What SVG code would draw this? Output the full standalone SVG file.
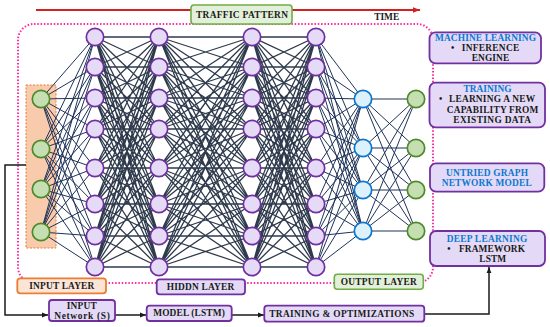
<svg xmlns="http://www.w3.org/2000/svg" width="550" height="327" viewBox="0 0 550 327">
<style>
.t{font-family:"Liberation Serif","DejaVu Serif",serif;font-weight:bold;font-size:9.4px;fill:#1a1a1a;text-anchor:middle}
.s{text-anchor:start}
.bl{fill:#0B78CF}
.hn{fill:#E5DBF7;stroke:#7030A0;stroke-width:1.7}
.gn{fill:#C5DFB3;stroke:#4E8A2C;stroke-width:1.7}
.bn{fill:#DDF1FC;stroke:#0A76CE;stroke-width:1.7}
.pb{fill:#E4DAF7;stroke:#7030A0;stroke-width:1.8}
.gb{fill:#E2F0D9;stroke:#70AD47;stroke-width:1.6}
.ob{fill:#FCE4D6;stroke:#ED7D31;stroke-width:1.8}
.hl{fill:none;stroke:#2F3B4D;stroke-width:1.3}
.il{fill:none;stroke:#1F3358;stroke-width:1}
.bk{fill:none;stroke:#1a1a1a;stroke-width:1.5}
</style>
<defs>
<marker id="ah" viewBox="0 0 10 10" refX="10" refY="5" markerWidth="6" markerHeight="6" markerUnits="userSpaceOnUse" orient="auto"><path d="M0 1L10 5L0 9z" fill="#1a1a1a"/></marker>
<marker id="ar" viewBox="0 0 10 10" refX="10" refY="5" markerWidth="7" markerHeight="7" markerUnits="userSpaceOnUse" orient="auto"><path d="M0 1L10 5L0 9z" fill="#D42020"/></marker>
</defs>

<g id="frame">
<rect x="18" y="24" width="415" height="259" rx="16" fill="none" stroke="#FF2E9E" stroke-width="2" stroke-dasharray="1.5 1.8"/>
<line x1="36" y1="10" x2="420" y2="10" stroke="#D42020" stroke-width="1.8" marker-end="url(#ar)"/>
<rect x="26" y="85" width="30" height="163" fill="#F8CBAD" stroke="#ED7D31" stroke-width="1" stroke-dasharray="2 1.5"/>
</g>

<g id="connectors">
<path class="il" d="M41 99L95 37M41 99L95 67M41 99L95 98M41 99L95 129M41 99L95 168M41 99L95 204M41 99L95 236M41 99L95 267M41 149L95 37M41 149L95 67M41 149L95 98M41 149L95 129M41 149L95 168M41 149L95 204M41 149L95 236M41 149L95 267M41 189L95 37M41 189L95 67M41 189L95 98M41 189L95 129M41 189L95 168M41 189L95 204M41 189L95 236M41 189L95 267M41 232L95 37M41 232L95 67M41 232L95 98M41 232L95 129M41 232L95 168M41 232L95 204M41 232L95 236M41 232L95 267"/>
<path class="hl" d="M95 37L159 37M95 37L159 67M95 37L159 98M95 37L159 129M95 37L159 168M95 37L159 204M95 37L159 236M95 37L159 267M95 67L159 37M95 67L159 67M95 67L159 98M95 67L159 129M95 67L159 168M95 67L159 204M95 67L159 236M95 67L159 267M95 98L159 37M95 98L159 67M95 98L159 98M95 98L159 129M95 98L159 168M95 98L159 204M95 98L159 236M95 98L159 267M95 129L159 37M95 129L159 67M95 129L159 98M95 129L159 129M95 129L159 168M95 129L159 204M95 129L159 236M95 129L159 267M95 168L159 37M95 168L159 67M95 168L159 98M95 168L159 129M95 168L159 168M95 168L159 204M95 168L159 236M95 168L159 267M95 204L159 37M95 204L159 67M95 204L159 98M95 204L159 129M95 204L159 168M95 204L159 204M95 204L159 236M95 204L159 267M95 236L159 37M95 236L159 67M95 236L159 98M95 236L159 129M95 236L159 168M95 236L159 204M95 236L159 236M95 236L159 267M95 267L159 37M95 267L159 67M95 267L159 98M95 267L159 129M95 267L159 168M95 267L159 204M95 267L159 236M95 267L159 267"/>
<path class="hl" d="M159 37L252 37M159 37L252 67M159 37L252 98M159 37L252 129M159 37L252 168M159 37L252 204M159 37L252 236M159 37L252 267M159 67L252 37M159 67L252 67M159 67L252 98M159 67L252 129M159 67L252 168M159 67L252 204M159 67L252 236M159 67L252 267M159 98L252 37M159 98L252 67M159 98L252 98M159 98L252 129M159 98L252 168M159 98L252 204M159 98L252 236M159 98L252 267M159 129L252 37M159 129L252 67M159 129L252 98M159 129L252 129M159 129L252 168M159 129L252 204M159 129L252 236M159 129L252 267M159 168L252 37M159 168L252 67M159 168L252 98M159 168L252 129M159 168L252 168M159 168L252 204M159 168L252 236M159 168L252 267M159 204L252 37M159 204L252 67M159 204L252 98M159 204L252 129M159 204L252 168M159 204L252 204M159 204L252 236M159 204L252 267M159 236L252 37M159 236L252 67M159 236L252 98M159 236L252 129M159 236L252 168M159 236L252 204M159 236L252 236M159 236L252 267M159 267L252 37M159 267L252 67M159 267L252 98M159 267L252 129M159 267L252 168M159 267L252 204M159 267L252 236M159 267L252 267"/>
<path class="hl" d="M252 37L316 37M252 37L316 67M252 37L316 98M252 37L316 129M252 37L316 168M252 37L316 204M252 37L316 236M252 37L316 267M252 67L316 37M252 67L316 67M252 67L316 98M252 67L316 129M252 67L316 168M252 67L316 204M252 67L316 236M252 67L316 267M252 98L316 37M252 98L316 67M252 98L316 98M252 98L316 129M252 98L316 168M252 98L316 204M252 98L316 236M252 98L316 267M252 129L316 37M252 129L316 67M252 129L316 98M252 129L316 129M252 129L316 168M252 129L316 204M252 129L316 236M252 129L316 267M252 168L316 37M252 168L316 67M252 168L316 98M252 168L316 129M252 168L316 168M252 168L316 204M252 168L316 236M252 168L316 267M252 204L316 37M252 204L316 67M252 204L316 98M252 204L316 129M252 204L316 168M252 204L316 204M252 204L316 236M252 204L316 267M252 236L316 37M252 236L316 67M252 236L316 98M252 236L316 129M252 236L316 168M252 236L316 204M252 236L316 236M252 236L316 267M252 267L316 37M252 267L316 67M252 267L316 98M252 267L316 129M252 267L316 168M252 267L316 204M252 267L316 236M252 267L316 267"/>
<path class="il" d="M316 37L363 99M316 37L363 148M316 37L363 190M316 37L363 231M316 67L363 99M316 67L363 148M316 67L363 190M316 67L363 231M316 98L363 99M316 98L363 148M316 98L363 190M316 98L363 231M316 129L363 99M316 129L363 148M316 129L363 190M316 129L363 231M316 168L363 99M316 168L363 148M316 168L363 190M316 168L363 231M316 204L363 99M316 204L363 148M316 204L363 190M316 204L363 231M316 236L363 99M316 236L363 148M316 236L363 190M316 236L363 231M316 267L363 99M316 267L363 148M316 267L363 190M316 267L363 231"/>
<path class="il" d="M363 99L416 99M363 99L416 148M363 99L416 190M363 99L416 231M363 148L416 99M363 148L416 148M363 148L416 190M363 148L416 231M363 190L416 99M363 190L416 148M363 190L416 190M363 190L416 231M363 231L416 99M363 231L416 148M363 231L416 190M363 231L416 231"/>
<path class="bk" d="M26 165H5V315H48" marker-end="url(#ah)"/>
<path class="bk" d="M115 315H146" marker-end="url(#ah)"/>
<path class="bk" d="M232 315H264" marker-end="url(#ah)"/>
<path class="bk" d="M424 314H489V267" marker-end="url(#ah)"/>
</g>

<g id="input-layer-nodes">
<g id="i1"><circle class="gn" cx="41" cy="99" r="8.7"/></g>
<g id="i2"><circle class="gn" cx="41" cy="149" r="8.7"/></g>
<g id="i3"><circle class="gn" cx="41" cy="189" r="8.7"/></g>
<g id="i4"><circle class="gn" cx="41" cy="232" r="8.7"/></g>
</g>
<g id="hidden-1">
<g id="h1-1"><circle class="hn" cx="95" cy="37" r="8.7"/></g>
<g id="h1-2"><circle class="hn" cx="95" cy="67" r="8.7"/></g>
<g id="h1-3"><circle class="hn" cx="95" cy="98" r="8.7"/></g>
<g id="h1-4"><circle class="hn" cx="95" cy="129" r="8.7"/></g>
<g id="h1-5"><circle class="hn" cx="95" cy="168" r="8.7"/></g>
<g id="h1-6"><circle class="hn" cx="95" cy="204" r="8.7"/></g>
<g id="h1-7"><circle class="hn" cx="95" cy="236" r="8.7"/></g>
<g id="h1-8"><circle class="hn" cx="95" cy="267" r="8.7"/></g>
</g>
<g id="hidden-2">
<g id="h2-1"><circle class="hn" cx="159" cy="37" r="8.7"/></g>
<g id="h2-2"><circle class="hn" cx="159" cy="67" r="8.7"/></g>
<g id="h2-3"><circle class="hn" cx="159" cy="98" r="8.7"/></g>
<g id="h2-4"><circle class="hn" cx="159" cy="129" r="8.7"/></g>
<g id="h2-5"><circle class="hn" cx="159" cy="168" r="8.7"/></g>
<g id="h2-6"><circle class="hn" cx="159" cy="204" r="8.7"/></g>
<g id="h2-7"><circle class="hn" cx="159" cy="236" r="8.7"/></g>
<g id="h2-8"><circle class="hn" cx="159" cy="267" r="8.7"/></g>
</g>
<g id="hidden-3">
<g id="h3-1"><circle class="hn" cx="252" cy="37" r="8.7"/></g>
<g id="h3-2"><circle class="hn" cx="252" cy="67" r="8.7"/></g>
<g id="h3-3"><circle class="hn" cx="252" cy="98" r="8.7"/></g>
<g id="h3-4"><circle class="hn" cx="252" cy="129" r="8.7"/></g>
<g id="h3-5"><circle class="hn" cx="252" cy="168" r="8.7"/></g>
<g id="h3-6"><circle class="hn" cx="252" cy="204" r="8.7"/></g>
<g id="h3-7"><circle class="hn" cx="252" cy="236" r="8.7"/></g>
<g id="h3-8"><circle class="hn" cx="252" cy="267" r="8.7"/></g>
</g>
<g id="hidden-4">
<g id="h4-1"><circle class="hn" cx="316" cy="37" r="8.7"/></g>
<g id="h4-2"><circle class="hn" cx="316" cy="67" r="8.7"/></g>
<g id="h4-3"><circle class="hn" cx="316" cy="98" r="8.7"/></g>
<g id="h4-4"><circle class="hn" cx="316" cy="129" r="8.7"/></g>
<g id="h4-5"><circle class="hn" cx="316" cy="168" r="8.7"/></g>
<g id="h4-6"><circle class="hn" cx="316" cy="204" r="8.7"/></g>
<g id="h4-7"><circle class="hn" cx="316" cy="236" r="8.7"/></g>
<g id="h4-8"><circle class="hn" cx="316" cy="267" r="8.7"/></g>
</g>
<g id="blue-layer">
<g id="b1"><circle class="bn" cx="363" cy="99" r="8.7"/></g>
<g id="b2"><circle class="bn" cx="363" cy="148" r="8.7"/></g>
<g id="b3"><circle class="bn" cx="363" cy="190" r="8.7"/></g>
<g id="b4"><circle class="bn" cx="363" cy="231" r="8.7"/></g>
</g>
<g id="output-nodes">
<g id="o1"><circle class="gn" cx="416" cy="99" r="8.7"/></g>
<g id="o2"><circle class="gn" cx="416" cy="148" r="8.7"/></g>
<g id="o3"><circle class="gn" cx="416" cy="190" r="8.7"/></g>
<g id="o4"><circle class="gn" cx="416" cy="231" r="8.7"/></g>
</g>

<g id="traffic-pattern">
<rect class="gb" x="191" y="5" width="101" height="19" rx="3"/>
<text class="t" x="242" y="17.8" textLength="92">TRAFFIC PATTERN</text>
</g>
<g id="time"><text class="t" x="386.7" y="19.8" textLength="25">TIME</text></g>

<g id="machine-learning">
<rect class="pb" x="429.5" y="32.3" width="111.5" height="31" rx="6"/>
<text class="t bl" x="485.5" y="40.8" textLength="101">MACHINE LEARNING</text>
<text class="t" x="452.7" y="50.8">•</text>
<text class="t s" x="461.7" y="50.8" textLength="57.5">INFERENCE</text>
<text class="t" x="490.5" y="61.3" textLength="37.5">ENGINE</text>
</g>
<g id="training">
<rect class="pb" x="429.5" y="82.7" width="115.5" height="44.6" rx="6"/>
<text class="t bl" x="487.5" y="92.4" textLength="48">TRAINING</text>
<text class="t" x="440.7" y="102.4">•</text>
<text class="t s" x="449" y="102.4" textLength="86">LEARNING A NEW</text>
<text class="t s" x="446.7" y="113.1" textLength="91.6">CAPABILITY FROM</text>
<text class="t s" x="453.3" y="123.2" textLength="77.7">EXISTING DATA</text>
</g>
<g id="untried">
<rect class="pb" x="430" y="163.3" width="114.3" height="28.4" rx="6"/>
<text class="t bl" x="487" y="175.8" textLength="82">UNTRIED GRAPH</text>
<text class="t bl" x="486.7" y="185.8" textLength="90">NETWORK MODEL</text>
</g>
<g id="deep-learning">
<rect class="pb" x="430" y="231" width="115" height="35" rx="6"/>
<text class="t bl" x="487" y="242.1" textLength="80.6">DEEP LEARNING</text>
<text class="t" x="449" y="251.8">•</text>
<text class="t s" x="459" y="251.8" textLength="66">FRAMEWORK</text>
<text class="t" x="492.7" y="262.1" textLength="26.7">LSTM</text>
</g>

<g id="input-layer">
<rect class="ob" x="17.3" y="278.3" width="88.7" height="15" rx="3"/>
<text class="t" x="61.8" y="288.8" textLength="65">INPUT LAYER</text>
</g>
<g id="hiddn-layer">
<rect class="pb" x="156.7" y="279.3" width="88.3" height="15" rx="3"/>
<text class="t" x="200.5" y="290.1" textLength="67.6">HIDDN LAYER</text>
</g>
<g id="output-layer">
<rect class="gb" x="334.3" y="274.3" width="89" height="15" rx="3"/>
<text class="t" x="378.7" y="285.1" textLength="76">OUTPUT LAYER</text>
</g>

<g id="input-network">
<rect class="pb" x="49" y="300" width="66" height="21" rx="3"/>
<text class="t" x="81.7" y="308.8" textLength="30">INPUT</text>
<text class="t" x="82" y="319" textLength="55.7">Network (S)</text>
</g>
<g id="model-lstm">
<rect class="pb" x="146.7" y="305.7" width="85" height="15.3" rx="3"/>
<text class="t" x="189" y="316.4" textLength="71.7">MODEL (LSTM)</text>
</g>
<g id="training-opt">
<rect class="pb" x="264.3" y="305.7" width="160" height="16" rx="3"/>
<text class="t" x="341.7" y="316.8" textLength="145">TRAINING &amp; OPTIMIZATIONS</text>
</g>
</svg>
